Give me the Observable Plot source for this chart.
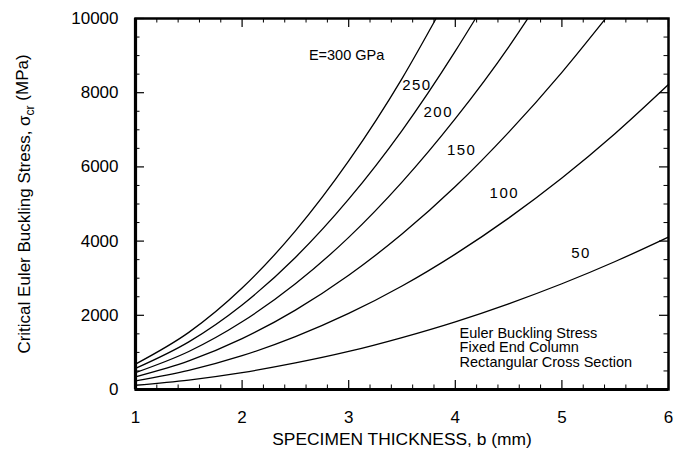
<!DOCTYPE html>
<html><head><meta charset="utf-8">
<script src="https://cdn.jsdelivr.net/npm/d3@7"></script>
<script src="https://cdn.jsdelivr.net/npm/@observablehq/plot@0.6"></script>
<style>
  body { margin: 0; background: #fff; }
  #chart svg { display: block; }
</style>
</head><body><div id="chart"></div>
<script>
// ---- data ----
const thickness = [1, 1.5, 2, 2.5, 3, 3.5, 4, 4.5, 5, 5.5, 6];           // b (mm)
const stressE50  = [115, 255, 455, 715, 1025, 1400, 1825, 2310, 2850, 3450, 4110];
const stressE100 = [230, 515, 910, 1425, 2050, 2790, 3650, 4620, 5700, 6900, 8220];
const stressE150 = [340, 770, 1370, 2140, 3080, 4190, 5470, 6930, 8550];
const stressE200 = [455, 1025, 1825, 2850, 4100, 5590, 7300, 9230];
const stressE250 = [570, 1285, 2280, 3560, 5130, 6980, 9120];
const stressE300 = [685, 1540, 2735, 4275, 6160, 8380];
const modulusGPa = [50, 100, 150, 200, 250, 300];
const topEdgeThickness = [null, null, 5.41, 4.68, 4.19, 3.82];  // where curves leave the top (10000 MPa)
const xTickLabels = [1, 2, 3, 4, 5, 6];
const yTickLabels = [0, 2000, 4000, 6000, 8000, 10000];
const curveLabels = ["50", "100", "150", "200", "250"];
const curveLabelB = [5.18, 4.46, 4.06, 3.84, 3.64];
const curveLabelS = [3670, 5280, 6440, 7470, 8200];
const eLabel = "E=300 GPa", eLabelB = 2.98, eLabelS = 9000;
const noteText = "Euler Buckling Stress\nFixed End Column\nRectangular Cross Section";
const noteB = 4.04, noteS = 1130;
const xTitle = "SPECIMEN THICKNESS, b (mm)";
const yTitle = "Critical Euler Buckling Stress, σcr (MPa)";

// ---- build table ----
const seriesValues = [stressE50, stressE100, stressE150, stressE200, stressE250, stressE300];
const rows = [];
seriesValues.forEach((vals, k) => {
  vals.forEach((v, i) => rows.push({E: modulusGPa[k], b: thickness[i], s: v}));
  if (topEdgeThickness[k] != null) rows.push({E: modulusGPa[k], b: topEdgeThickness[k], s: yTickLabels[yTickLabels.length - 1]});
});
const labelRows = curveLabels.map((t, i) => ({t, b: curveLabelB[i], s: curveLabelS[i]}));

const W = 688, H = 450, mL = 135, mR = 20, mT = 18, mB = 61;
const innerW = W - mL - mR, innerH = H - mT - mB;
const xMinor = d3.range(1, 6.0001, 0.2).filter(v => Math.abs(v - Math.round(v)) > 1e-6);
const yMinor = d3.range(0, 10001, 500).filter(v => v % 2000 !== 0);
const majLen = 9, minLen = 4.5;

const chart = Plot.plot({
  width: W, height: H,
  marginLeft: mL, marginRight: mR, marginTop: mT, marginBottom: mB,
  style: {fontFamily: "'Liberation Sans', Arial, Helvetica, sans-serif", fontSize: "17px", color: "#000", background: "#fff"},
  x: {domain: [1, 6]},
  y: {domain: [0, 10000]},
  marks: [
    Plot.axisX(xTickLabels, {tickSize: 0, tickPadding: 21, tickFormat: d => String(d), label: null, fontSize: 17}),
    Plot.axisY(yTickLabels, {tickSize: 0, tickPadding: 17, tickFormat: d => String(d), label: null, fontSize: 17}),
    // inward ticks on all four sides
    Plot.tickX(xTickLabels, {x: d => d, insetTop: innerH - majLen, strokeWidth: 1.2}),
    Plot.tickX(xMinor, {x: d => d, insetTop: innerH - minLen, strokeWidth: 1}),
    Plot.tickX(xTickLabels, {x: d => d, insetBottom: innerH - majLen, strokeWidth: 1.2}),
    Plot.tickX(xMinor, {x: d => d, insetBottom: innerH - minLen, strokeWidth: 1}),
    Plot.tickY(yTickLabels, {y: d => d, insetRight: innerW - majLen, strokeWidth: 1.2}),
    Plot.tickY(yMinor, {y: d => d, insetRight: innerW - minLen, strokeWidth: 1}),
    Plot.tickY(yTickLabels, {y: d => d, insetLeft: innerW - majLen, strokeWidth: 1.2}),
    Plot.tickY(yMinor, {y: d => d, insetLeft: innerW - minLen, strokeWidth: 1}),
    Plot.line(rows, {x: "b", y: "s", z: "E", curve: "monotone-x", stroke: "#000", strokeWidth: 1.3}),
    Plot.frame({stroke: "#000", strokeWidth: 2.5}),
    Plot.ruleX([1], {stroke: "#000", strokeWidth: 3.2}),
    Plot.ruleY([0], {stroke: "#000", strokeWidth: 3.2}),
    Plot.text(labelRows, {x: "b", y: "s", text: "t", fontSize: 15, fill: "#000"}),
    Plot.text([eLabel], {x: () => eLabelB, y: () => eLabelS, text: d => d, fontSize: 14.5, fill: "#000"}),
    Plot.text([noteText], {x: () => noteB, y: () => noteS, text: d => d, textAnchor: "start", lineAnchor: "middle", lineHeight: 1.0, fontSize: 14.5, fill: "#000"}),
    Plot.text([xTitle], {frameAnchor: "bottom", dy: 50, lineAnchor: "middle", text: d => d, fontSize: 17.4, fill: "#000"}),
    Plot.text([yTitle], {frameAnchor: "left", dx: -111, rotate: -90, textAnchor: "middle", lineAnchor: "middle", text: d => d, fontSize: 17, fill: "#000"})
  ]
});
document.getElementById("chart").appendChild(chart);

// subscript "cr" in the y title; letter spacing on curve labels
d3.select(chart).selectAll("text").each(function() {
  const el = d3.select(this);
  if (this.textContent === yTitle) {
    const [pre, post] = yTitle.split("σcr");
    el.text(null);
    el.append("tspan").text(pre + "σ");
    el.append("tspan").attr("dy", "0.3em").attr("font-size", "12px").text("cr");
    el.append("tspan").attr("dy", "-0.3em").text(post);
  } else if (curveLabels.includes(this.textContent)) {
    el.style("letter-spacing", "1.5px");
  }
});
</script>
</body></html>
